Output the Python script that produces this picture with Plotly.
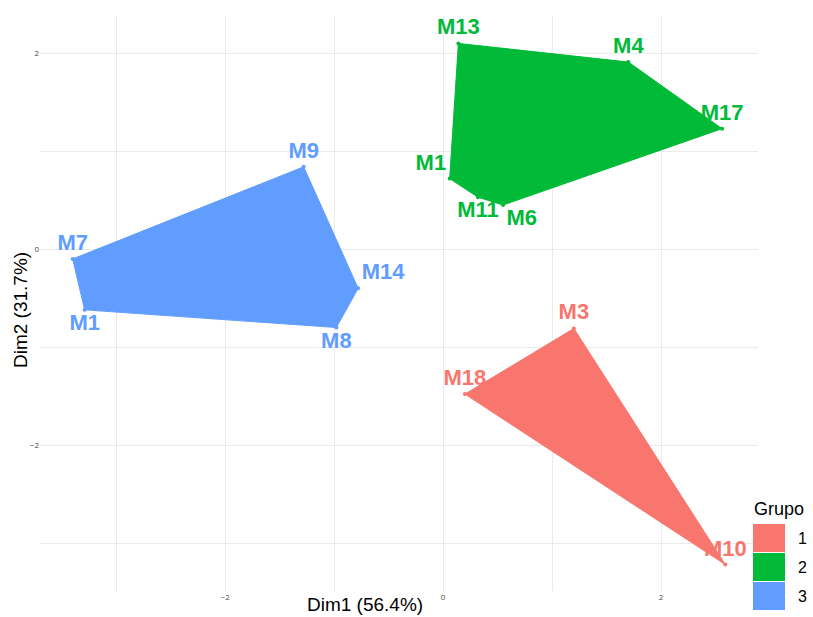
import plotly.graph_objects as go

# Individuals on the first two dimensions, with their cluster membership
names = ["M13", "M4", "M17", "M6", "M11", "M1",
         "M9", "M14", "M8", "M1", "M7",
         "M3", "M10", "M18"]
dim1 = [0.14, 1.70, 2.56, 0.55, 0.32, 0.06,
        -1.28, -0.78, -0.98, -3.29, -3.40,
        1.20, 2.59, 0.20]
dim2 = [2.10, 1.91, 1.23, 0.45, 0.53, 0.72,
        0.84, -0.40, -0.80, -0.62, -0.10,
        -0.81, -3.22, -1.48]
grupo = ["2", "2", "2", "2", "2", "2",
         "3", "3", "3", "3", "3",
         "1", "1", "1"]

group_levels = ["1", "2", "3"]
group_colors = {"1": "#F8766D", "2": "#00BA38", "3": "#619CFF"}

# label placement relative to each point
label_pos = ["top center", "top center", "top center", "bottom right", "bottom center", "top left",
             "top center", "top right", "bottom center", "bottom center", "top center",
             "top center", "top center", "top center"]

x_tick_vals = [-2, 0, 2]
y_tick_vals = [-2, 0, 2]
x_title = "Dim1 (56.4%)"
y_title = "Dim2 (31.7%)"
legend_title = "Grupo"

LABEL_FONT = "Liberation Sans Narrow, Arial Narrow, Liberation Sans, Arial, sans-serif"
TEXT_FONT = "Liberation Sans Narrow, Arial Narrow, Liberation Sans, Arial, sans-serif"


def convex_hull(pts):
    pts = sorted(set(pts))
    if len(pts) <= 2:
        return pts

    def cross(o, a, b):
        return (a[0] - o[0]) * (b[1] - o[1]) - (a[1] - o[1]) * (b[0] - o[0])

    lower, upper = [], []
    for p in pts:
        while len(lower) >= 2 and cross(lower[-2], lower[-1], p) <= 0:
            lower.pop()
        lower.append(p)
    for p in reversed(pts):
        while len(upper) >= 2 and cross(upper[-2], upper[-1], p) <= 0:
            upper.pop()
        upper.append(p)
    return lower[:-1] + upper[:-1]


fig = go.Figure()

# cluster hulls
for g in group_levels:
    pts = [(x, y) for x, y, k in zip(dim1, dim2, grupo) if k == g]
    hull = convex_hull(pts)
    hx = [p[0] for p in hull] + [hull[0][0]]
    hy = [p[1] for p in hull] + [hull[0][1]]
    fig.add_trace(go.Scatter(
        x=hx, y=hy, mode="lines", fill="toself",
        fillcolor=group_colors[g],
        line=dict(color=group_colors[g], width=1),
        hoverinfo="skip", showlegend=False,
    ))

# points and their labels
for g in group_levels:
    idx = [i for i, k in enumerate(grupo) if k == g]
    fig.add_trace(go.Scatter(
        x=[dim1[i] for i in idx], y=[dim2[i] for i in idx],
        mode="markers+text",
        text=[names[i] for i in idx],
        textposition=[label_pos[i] for i in idx],
        textfont=dict(family=LABEL_FONT, size=22, color=group_colors[g], weight="bold"),
        marker=dict(size=4, color=group_colors[g]),
        showlegend=False,
    ))

W, H = 813, 617
ML, MR, MT, MB = 40, 55, 16, 26
PW, PH = W - ML - MR, H - MT - MB


def px_x(p):
    return (p - ML) / PW


def px_y(p):
    return (H - MB - p) / PH


shapes = []
annotations = []

# legend drawn as swatches beside the panel
annotations.append(dict(x=px_x(752), y=px_y(509), xref="paper", yref="paper",
                        text=legend_title, showarrow=False, xanchor="left", yanchor="middle",
                        font=dict(family="Liberation Sans, Arial, sans-serif", size=18, color="#000000")))
for n, g in enumerate(group_levels):
    top = 524 + n * 29
    shapes.append(dict(type="rect", xref="paper", yref="paper",
                       x0=px_x(753), x1=px_x(785), y0=px_y(top), y1=px_y(top + 28),
                       fillcolor=group_colors[g], line=dict(width=0), layer="above"))
    annotations.append(dict(x=px_x(796), y=px_y(top + 14), xref="paper", yref="paper",
                            text=g, showarrow=False, xanchor="left", yanchor="middle",
                            font=dict(family="Liberation Sans, Arial, sans-serif", size=16, color="#000000")))

# axis titles
annotations.append(dict(x=px_x(365), y=px_y(604), xref="paper", yref="paper",
                        text=x_title, showarrow=False, xanchor="center", yanchor="middle",
                        font=dict(family=TEXT_FONT, size=19, color="#000000")))
annotations.append(dict(x=px_x(20), y=px_y(310), xref="paper", yref="paper",
                        text=y_title, showarrow=False, textangle=-90, xanchor="center", yanchor="middle",
                        font=dict(family=TEXT_FONT, size=19, color="#000000")))

fig.update_layout(
    width=W, height=H,
    margin=dict(l=ML, r=MR, t=MT, b=MB),
    paper_bgcolor="white", plot_bgcolor="white",
    showlegend=False,
    shapes=shapes, annotations=annotations,
    xaxis=dict(range=[-3.70, 2.89], tickvals=x_tick_vals, showgrid=True,
               gridcolor="#EBEBEB", gridwidth=1, zeroline=False,
               minor=dict(dtick=1, tick0=0, showgrid=True, gridcolor="#EBEBEB", gridwidth=1),
               tickfont=dict(size=8, color="#4D4D4D"), ticks="", showline=False),
    yaxis=dict(range=[-3.49, 2.38], tickvals=y_tick_vals, showgrid=True,
               gridcolor="#EBEBEB", gridwidth=1, zeroline=False,
               minor=dict(dtick=1, tick0=0, showgrid=True, gridcolor="#EBEBEB", gridwidth=1),
               tickfont=dict(size=8, color="#4D4D4D"), ticks="", showline=False),
)

fig.write_html("out.html")
